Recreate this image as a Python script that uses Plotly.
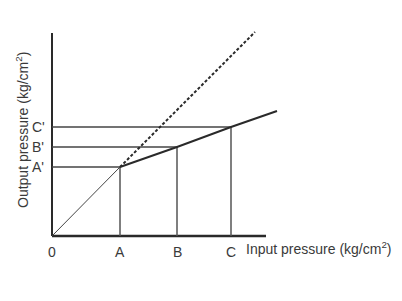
import plotly.graph_objects as go

# Data (arbitrary pressure units)
input_points = ["A", "B", "C"]
input_values = [6.8, 12.5, 17.9]
output_labels = ["A'", "B'", "C'"]
output_values = [6.9, 8.9, 10.9]
knee_end = (22.5, 12.5)
dashed_end = (20.3, 20.4)
y_axis_top = 20.3
x_axis_end = 21.4

ink = "#2a2a2a"
fig = go.Figure()

# axes
fig.add_trace(go.Scatter(x=[0, 0], y=[0, y_axis_top], mode="lines",
                         line=dict(color=ink, width=2)))
fig.add_trace(go.Scatter(x=[0, x_axis_end], y=[0, 0], mode="lines",
                         line=dict(color=ink, width=2.5)))
# guide lines
for xv, yv in zip(input_values, output_values):
    fig.add_trace(go.Scatter(x=[0, xv], y=[yv, yv], mode="lines",
                             line=dict(color="#444", width=1.5)))
    fig.add_trace(go.Scatter(x=[xv, xv], y=[0, yv], mode="lines",
                             line=dict(color="#555", width=1.5)))
# 1:1 line to A
fig.add_trace(go.Scatter(x=[0, input_values[0]], y=[0, output_values[0]], mode="lines",
                         line=dict(color="#444", width=1)))
# dashed continuation
fig.add_trace(go.Scatter(x=[input_values[0], dashed_end[0]], y=[output_values[0], dashed_end[1]],
                         mode="lines", line=dict(color=ink, width=2, dash="3px,2px")))
# reduced slope line
fig.add_trace(go.Scatter(x=[input_values[0], input_values[1], input_values[2], knee_end[0]],
                         y=[output_values[0], output_values[1], output_values[2], knee_end[1]],
                         mode="lines", line=dict(color=ink, width=2)))

tick_font = dict(family="Liberation Sans, Arial, sans-serif", size=14, color="#3a3a3a")
title_font = dict(family="Liberation Sans, Arial, sans-serif", size=14, color="#3a3a3a")
ann = []
ann.append(dict(x=0, y=-1.6, text="0", showarrow=False, font=tick_font))
for lab, xv in zip(input_points, input_values):
    ann.append(dict(x=xv, y=-1.6, text=lab, showarrow=False, font=tick_font))
for lab, yv in zip(output_labels, output_values):
    ann.append(dict(x=-1.4, y=yv, text=lab, showarrow=False, font=tick_font))
ann.append(dict(x=19.2, y=-1.2, text="Input pressure (kg/cm<sup>2</sup>)", showarrow=False,
                xanchor="left", font=title_font))
ann.append(dict(x=-3.0, y=10.6, text="Output pressure (kg/cm<sup>2</sup>)", showarrow=False,
                textangle=-90, font=title_font))
for a in ann:
    a.update(xref="x", yref="y")

fig.update_layout(
    width=402, height=301, margin=dict(l=0, r=0, t=0, b=0),
    paper_bgcolor="white", plot_bgcolor="white", showlegend=False,
    xaxis=dict(range=[-5.2, 35.0], visible=False, fixedrange=True),
    yaxis=dict(range=[-6.5, 23.6], visible=False, fixedrange=True),
    annotations=ann,
)
fig.write_html("out.html")
